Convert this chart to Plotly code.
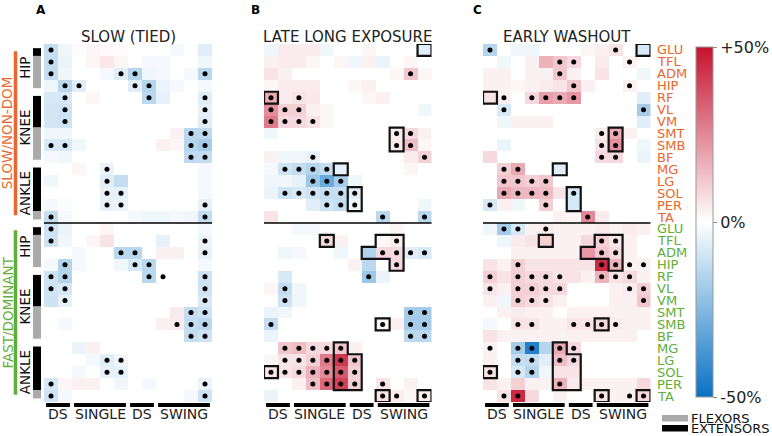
import plotly.graph_objects as go

W, H = 772, 436
muscles = ["GLU", "TFL", "ADM", "HIP", "RF", "VL", "VM", "SMT", "SMB", "BF", "MG", "LG", "SOL", "PER", "TA"]
phases = ["DS", "SINGLE", "DS", "SWING"]
phase_cols = [(0, 1), (2, 5), (6, 7), (8, 11)]
titles = ["SLOW (TIED)", "LATE LONG EXPOSURE", "EARLY WASHOUT"]
letters = ["A", "B", "C"]
joint_groups = [("HIP", 0, 3), ("KNEE", 4, 9), ("ANKLE", 10, 14)]
role_segments = [(0, 0, "ext"), (1, 3, "flex"), (4, 6, "ext"), (7, 9, "flex"), (10, 13, "ext"), (14, 14, "flex")]
leg_labels = ["SLOW/NON-DOM", "FAST/DOMINANT"]

# ---------------- data: % change per muscle (30 rows: 15 slow leg + 15 fast leg) x 12 gait bins
A_vals = [
    [-12, -3, -1, 2, 1, 1, 0, 0, 0, -2, 0, -6],
    [-12, -4, 0, 2, 5, 2, 0, -2, -2, 0, 0, -3],
    [-12, -3, 0, 0, -2, -6, -15, -3, -2, 0, -2, -14],
    [-3, -14, -6, 0, 0, 0, -6, -15, -4, -2, 0, -2],
    [-8, -8, 0, 2, 0, 0, 0, -14, -5, 0, 0, -6],
    [-9, -10, 0, 0, 0, 0, 0, 0, 0, 0, 0, -5],
    [-9, -10, 0, 0, 0, 0, 0, 0, 0, 0, 0, -6],
    [-3, -3, 0, 0, 0, 0, 0, 0, 0, 3, -14, -13],
    [-8, -8, -3, 0, 0, 0, 0, 0, 3, 2, -15, -18],
    [-2, -3, 0, 0, 0, 0, 0, 0, 0, 0, -13, -12],
    [0, 0, 2, 0, -4, 0, 0, 0, 0, 0, 0, -2],
    [-3, 0, 0, 0, -6, -12, 0, 0, 0, 0, 0, -2],
    [0, 0, 0, 0, -5, -5, 0, 0, 0, 0, 0, -2],
    [-2, -1, 0, 0, -5, -4, 0, 0, 0, 0, 0, -5],
    [-12, -2, 0, 0, 0, 0, -2, -3, -3, -2, -3, -12],
    [-10, -4, 0, 0, 2, 0, 0, 0, 0, 0, 0, -2],
    [-10, -3, 0, 2, 6, 0, 0, 0, -5, 0, 0, -4],
    [0, 0, -2, 0, 0, -14, -14, 0, 3, 3, 0, -5],
    [-2, -15, -2, 0, 0, -3, -8, -14, 0, 0, 0, -2],
    [-10, -15, 0, 0, 0, 0, 0, -14, 0, 0, 0, -10],
    [-10, -8, 0, 0, 0, 0, 0, 0, 0, 0, 0, -10],
    [-10, -5, 0, 0, 0, 0, 0, 0, 0, 0, 0, -8],
    [0, 0, 0, 0, 0, 0, 0, 0, 0, 4, -12, -10],
    [0, -2, 0, 0, 0, 0, 0, 0, 3, 4, -12, -14],
    [0, 0, 0, 0, 0, 0, 0, 0, 0, 0, -12, -10],
    [0, 0, -4, 3, 0, 0, 0, 0, 0, 0, 0, 0],
    [0, 0, 0, -2, -6, -3, 0, 0, 0, 0, 0, 0],
    [0, 0, -2, 0, -5, -5, 0, 0, 0, 0, 0, 0],
    [-8, 2, 3, 3, 0, -3, 0, -2, 0, 0, 0, -4],
    [-10, -2, 0, 0, 0, 0, 0, 0, 0, 0, -2, -10],
]
A_dots = [
    "x...........", "x...........", "x....xx....x", ".xx...xx....", ".x.....x...x",
    ".x.........x", ".x.........x", "..........xx", "xx........xx", "..........xx",
    "....x.......", "....x.......", "....xx......", "....xx.....x", "x..........x",
    "x...........", "x..........x", ".....xx....x", ".x....xx....", "xx.....xx..x",
    "xx.........x", ".x.........x", "..........xx", ".........xxx", "..........xx",
    "............", "....xx......", "....xx......", "x..........x", "x..........x",
]
A_boxes = []

B_vals = [
    [-3, 4, 4, 4, -3, 0, 0, 2, 0, 0, 0, -6],
    [3, 4, 4, 2, 0, 2, -3, 3, -4, 0, 2, 0],
    [6, 3, 0, 0, 0, 0, 0, 0, 0, 2, 12, 2],
    [2, 4, 4, 4, 0, 0, 2, 3, 0, 0, 0, 0],
    [18, 4, 6, 5, 0, 0, 0, 2, 3, 0, 0, 0],
    [24, 10, 10, 3, 2, 0, 0, 0, 0, 0, 0, -3],
    [28, 8, 8, 6, 2, 0, 0, 0, 0, 0, 0, 0],
    [-3, 0, 0, 0, 0, 0, 0, 0, 0, 4, 8, 3],
    [0, 0, 0, 0, 0, 0, 0, 0, 0, 4, 14, 2],
    [3, -3, -3, -5, 0, 0, 0, 0, 0, 0, 4, 10],
    [-2, -10, -12, -15, -12, -5, 0, 0, 0, 0, 2, 0],
    [-3, -3, -5, -20, -30, -18, -3, 0, 0, 0, 0, 0],
    [-4, -10, -8, -10, -12, -12, -6, 0, 0, 0, 0, 0],
    [0, 0, 0, -6, -10, -12, -3, 0, 0, 0, 0, -3],
    [6, 0, 0, 0, 0, 0, 0, 0, -14, 0, 0, -14],
    [0, 0, -2, -2, 0, 0, 0, 0, 0, 2, 0, 0],
    [0, 0, 0, 0, 8, 3, 0, 0, 2, 4, 0, 0],
    [0, -3, -2, 0, 0, -3, 0, -16, 8, 8, -6, -8],
    [0, 0, 0, 0, 0, 0, 3, -14, 0, 8, 0, 0],
    [0, -8, 0, 0, 0, 0, 0, -20, -4, 0, 0, 0],
    [2, -12, -3, 0, 0, 0, 0, 0, 0, 0, 0, 0],
    [0, -10, -3, 0, 0, 0, 0, 0, 0, 0, 0, 0],
    [-4, -3, 0, 0, 0, 0, 0, 0, 0, 0, -18, -18],
    [-12, 0, 0, 0, 0, 0, 0, 0, 2, 3, -18, -18],
    [-4, 0, 0, 0, 0, 0, 0, 0, 0, 0, -14, -14],
    [0, 12, 14, 8, 8, 12, 3, 0, 0, 0, 0, 0],
    [2, 6, 6, 10, 28, 42, 12, 0, 0, 0, 0, 0],
    [5, 6, 8, 16, 25, 35, 10, 0, 0, 0, 0, 0],
    [0, 0, 3, 14, 32, 40, 10, 0, 6, 0, 3, 0],
    [-4, 0, 0, 0, 0, 0, 0, 0, 6, 4, 2, 4],
]
B_dots = [
    "............", "............", "..........x.", "............", "x.x.........",
    "xxx.........", "xxxx........", ".........xx.", ".........xx.", "...x.......x",
    ".xxxx.......", "...xxx......", ".xxxxxx.....", "....xxx.....", "........x..x",
    "............", "....x....x..", "........xxxx", ".........x..", ".......x....",
    ".x..........", ".x..........", "..........xx", "x.......x.xx", "..........xx",
    ".xxxxx......", ".xxxxxx.....", "xxxxxxx.....", "...xxxx.x...", "........xx.x",
]
B_boxes = [
    [(0, 11)], [(4, 0)], [(7, 9), (8, 9)], [(10, 5)], [(12, 6), (13, 6)],
    [(16, 4)], [(16, 8), (16, 9), (17, 7), (17, 8), (17, 9), (18, 9)], [(23, 8)],
    [(25, 5), (26, 5), (26, 6), (27, 5), (27, 6), (28, 5), (28, 6)], [(27, 0)], [(29, 8)], [(29, 11)],
]

C_vals = [
    [-15, 0, -3, -3, 0, 0, 0, 2, 3, 6, 0, -8],
    [0, -3, 0, 3, 16, 12, 8, 0, 4, 0, 3, 0],
    [3, 3, 0, 3, 3, 12, 3, 0, 6, 0, 0, -3],
    [3, 3, 2, 3, 4, 6, 12, 3, 0, 0, 3, 0],
    [6, 3, 0, 8, 20, 18, 22, 0, 0, 0, 0, -6],
    [0, -8, 0, 0, 0, 0, 0, 0, 0, 0, 0, -18],
    [0, -3, 3, 3, 3, 0, 0, 0, 0, 0, 0, -6],
    [0, 0, 0, 0, 0, 0, 0, 0, 4, 18, 3, 0],
    [0, -4, 0, 0, 0, 0, 0, 0, 6, 24, 0, -3],
    [8, 0, 0, 0, 0, 0, 0, 0, 8, 8, 0, -4],
    [0, 10, 18, 0, 0, -6, 0, 0, 0, 0, 0, 0],
    [0, 12, 12, 10, 12, 0, 0, 0, 0, 0, 0, 0],
    [0, 18, 15, 15, 14, 6, -8, 0, 0, 0, 0, 0],
    [-8, 3, -3, 0, 10, 0, -8, 0, 0, 0, 0, 0],
    [0, 0, 0, 0, 0, 3, 2, 25, 4, 0, 0, 0],
    [-3, -18, -8, 3, 4, 3, 3, 3, 4, 3, 4, 3],
    [0, -3, 4, 6, 10, 3, 3, 8, 10, 6, 3, 0],
    [0, 0, 3, 3, 3, 3, 3, 22, 12, 8, 3, 0],
    [6, 3, 10, 6, 6, 6, 6, 6, 45, 16, 3, 3],
    [10, 6, 10, 8, 8, 6, 6, 3, 16, 6, 8, 3],
    [6, 3, 10, 10, 8, 8, 0, 0, 0, 3, 4, 10],
    [3, -3, 10, 8, 6, 3, 0, 0, 0, 3, 3, 12],
    [0, 3, 4, 3, 3, 0, 3, 3, 3, 3, 3, 3],
    [-2, 0, 6, 6, 3, 3, 6, 6, 8, 4, 3, 3],
    [6, 3, 3, 3, 3, 3, 3, 3, 3, 3, 3, 0],
    [3, 0, -18, -45, -15, 18, 8, 0, 0, 0, 0, 0],
    [3, 0, -12, -12, -6, 14, 8, 0, 0, 0, 0, 0],
    [6, 0, -8, -15, -3, 6, 6, 0, 0, 0, 0, 0],
    [6, 3, 10, 3, 3, 16, 4, 3, 3, 3, 3, 8],
    [0, 6, 45, 8, 0, 3, 0, 0, 6, 3, 3, 8],
]
C_dots = [
    "x........x..", ".....xx...x.", ".....x......", "......x...x.", ".x.xxxx.....",
    ".x.........x", "............", "........xx..", "........xx..", "........xx..",
    ".xx.........", ".xxxx.......", ".xxxx.x.....", "x...x.......", ".......x....",
    ".xx.x.......", "........xx..", "........xx..", "..x.....xxxx", "x.xxxx..xxx.",
    "x.xxxx....xx", "..xxx......x", "............", "..xx..xxxx..", "............",
    "x.xx.xx.....", "..xx.xx.....", "x.xx........", ".....x......", ".xx.....x.xx",
]
C_boxes = [
    [(0, 11)], [(4, 0)], [(7, 9), (8, 9)], [(10, 5)], [(12, 6), (13, 6)],
    [(16, 4)], [(16, 8), (16, 9), (17, 7), (17, 8), (17, 9), (18, 9)], [(23, 8)],
    [(25, 5), (26, 5), (26, 6), (27, 5), (27, 6), (28, 5), (28, 6)], [(27, 0)], [(29, 8)], [(29, 11)],
]

panels = [(A_vals, A_dots, A_boxes), (B_vals, B_dots, B_boxes), (C_vals, C_dots, C_boxes)]

# ---------------- layout geometry (pixels)
px_x = [(44, 212), (264, 431.5), (483, 650.5)]
Y_TOP, Y_BOT = 44, 402
FONT = "DejaVu Sans"
ORANGE = "#e8672e"
GREEN = "#5fae37"


def px(x):
    return x / W


def py(y):
    return 1 - y / H


def outline_path(cells):
    s = set(cells)
    edges = {}
    for r, c in cells:
        x0, x1, y0, y1 = c - 0.5, c + 0.5, r - 0.5, r + 0.5
        if (r - 1, c) not in s:
            edges[(x0, y0)] = (x1, y0)
        if (r, c + 1) not in s:
            edges[(x1, y0)] = (x1, y1)
        if (r + 1, c) not in s:
            edges[(x1, y1)] = (x0, y1)
        if (r, c - 1) not in s:
            edges[(x0, y1)] = (x0, y0)
    start = next(iter(edges))
    pts = [start]
    cur = edges[start]
    while cur != start:
        pts.append(cur)
        cur = edges[cur]
    return "M " + " L ".join(f"{x},{y}" for x, y in pts) + " Z"


fig = go.Figure()
shapes = []
annotations = []

for i, (vals, dots, boxes) in enumerate(panels):
    sfx = "" if i == 0 else str(i + 1)
    xa, ya = "x" + sfx, "y" + sfx
    fig.add_trace(go.Heatmap(z=vals, x=list(range(12)), y=list(range(30)), coloraxis="coloraxis",
                             xaxis=xa, yaxis=ya, hoverinfo="skip"))
    dx, dy = [], []
    for r, row in enumerate(dots):
        for c, ch in enumerate(row):
            if ch == "x":
                dx.append(c)
                dy.append(r)
    fig.add_trace(go.Scatter(x=dx, y=dy, mode="markers", xaxis=xa, yaxis=ya,
                             marker=dict(size=5, color="black"), hoverinfo="skip", showlegend=False))
    for cells in boxes:
        shapes.append(dict(type="path", path=outline_path(cells), xref=xa, yref=ya,
                           line=dict(color="#111", width=2.2)))
    # separator between legs
    shapes.append(dict(type="line", xref=xa, yref=ya, x0=-0.8, x1=11.85, y0=14.5, y1=14.5,
                       line=dict(color="black", width=1.5)))
    # phase bars and labels
    for name, (c0, c1) in zip(phases, phase_cols):
        shapes.append(dict(type="rect", xref=xa, yref="paper", x0=c0 - 0.35, x1=c1 + 0.35,
                           y0=py(407), y1=py(403), fillcolor="black", line=dict(width=0)))
        annotations.append(dict(text=name, xref=xa, yref="paper", x=(c0 + c1) / 2, y=py(413.5),
                                showarrow=False, font=dict(family=FONT, size=14, color="#222"),
                                xanchor="center", yanchor="middle"))
    x0p, x1p = px_x[i]
    annotations.append(dict(text=titles[i], xref="paper", yref="paper", x=px((x0p + x1p) / 2), y=py(37),
                            showarrow=False, font=dict(family=FONT, size=15, color="#222"),
                            xanchor="center", yanchor="middle"))
    annotations.append(dict(text="<b>" + letters[i] + "</b>", xref="paper", yref="paper",
                            x=px([40.5, 255.5, 477][i]), y=py(9.5), showarrow=False,
                            font=dict(family=FONT, size=12, color="black"), xanchor="center", yanchor="middle"))

# left-hand muscle group markers
for leg in range(2):
    off = 15 * leg
    for name, g0, g1 in joint_groups:
        annotations.append(dict(text=name, xref="paper", yref="y", x=px(25), y=off + (g0 + g1) / 2,
                                textangle=-90, showarrow=False, font=dict(family=FONT, size=13.5, color="#111"),
                                xanchor="center", yanchor="middle"))
    starts = {g0 for _, g0, _ in joint_groups}
    ends = {g1 for _, _, g1 in joint_groups}
    for s0, s1, role in role_segments:
        y0 = off + s0 - 0.5 + (0.35 if s0 in starts else 0)
        y1 = off + s1 + 0.5 - (0.3 if s1 in ends else 0)
        shapes.append(dict(type="rect", xref="paper", yref="y", x0=px(33), x1=px(41), y0=y0, y1=y1,
                           fillcolor="black" if role == "ext" else "#aaaaaa", line=dict(width=0)))
    col = ORANGE if leg == 0 else GREEN
    ly0, ly1 = (0.1, 13.85) if leg == 0 else (15.1, 28.9)
    shapes.append(dict(type="line", xref="paper", yref="y", x0=px(15.5), x1=px(15.5), y0=ly0, y1=ly1,
                       line=dict(color=col, width=3.5)))
    annotations.append(dict(text=leg_labels[leg], xref="paper", yref="y", x=px(7), y=(ly0 + ly1) / 2,
                            textangle=-90, showarrow=False, font=dict(family=FONT, size=13.5, color=col),
                            xanchor="center", yanchor="middle"))
    for k, m in enumerate(muscles):
        annotations.append(dict(text=m, xref="paper", yref="y3", x=px(655), y=off + k, xanchor="left",
                                yanchor="middle", showarrow=False, font=dict(family=FONT, size=13, color=col)))

# flexor / extensor key
shapes.append(dict(type="rect", xref="paper", yref="paper", x0=px(662), x1=px(688), y0=py(421.5), y1=py(415),
                   fillcolor="#aaaaaa", line=dict(width=0)))
shapes.append(dict(type="rect", xref="paper", yref="paper", x0=px(662), x1=px(688), y0=py(431.5), y1=py(425),
                   fillcolor="black", line=dict(width=0)))
for t, yy in [("FLEXORS", 418.5), ("EXTENSORS", 428.3)]:
    annotations.append(dict(text=t, xref="paper", yref="paper", x=px(688.5), y=py(yy), xanchor="left",
                            yanchor="middle", showarrow=False, font=dict(family=FONT, size=13, color="#111")))

layout = dict(
    width=W, height=H, margin=dict(l=0, r=0, t=0, b=0, autoexpand=False),
    paper_bgcolor="white", plot_bgcolor="white",
    showlegend=False, shapes=shapes, annotations=annotations,
    coloraxis=dict(cmin=-50, cmax=50,
                   colorscale=[[0, "rgb(8,114,196)"], [0.5, "rgb(255,255,255)"], [1, "rgb(198,18,46)"]],
                   colorbar=dict(x=px(696), xanchor="left", y=py(222), yanchor="middle", len=350 / H,
                                 lenmode="fraction", thickness=17, xpad=0, ypad=0, outlinewidth=1,
                                 outlinecolor="#999", tickvals=[-50, 0, 50], ticktext=["-50%", "0%", "+50%"],
                                 ticks="outside", ticklen=4, tickcolor="#888",
                                 tickfont=dict(family=FONT, size=16, color="#222"))),
)
for i in range(3):
    sfx = "" if i == 0 else str(i + 1)
    x0p, x1p = px_x[i]
    layout["xaxis" + sfx] = dict(domain=[px(x0p), px(x1p)], range=[-0.5, 11.5], visible=False,
                                 anchor="y" + sfx, fixedrange=True)
    layout["yaxis" + sfx] = dict(domain=[py(Y_BOT), py(Y_TOP)], range=[29.5, -0.5], visible=False,
                                 anchor="x" + sfx, fixedrange=True)
fig.update_layout(**layout)
fig.write_html("out.html", config={"displayModeBar": False},
               post_script="document.body.style.margin='0';document.body.style.overflow='hidden';")
